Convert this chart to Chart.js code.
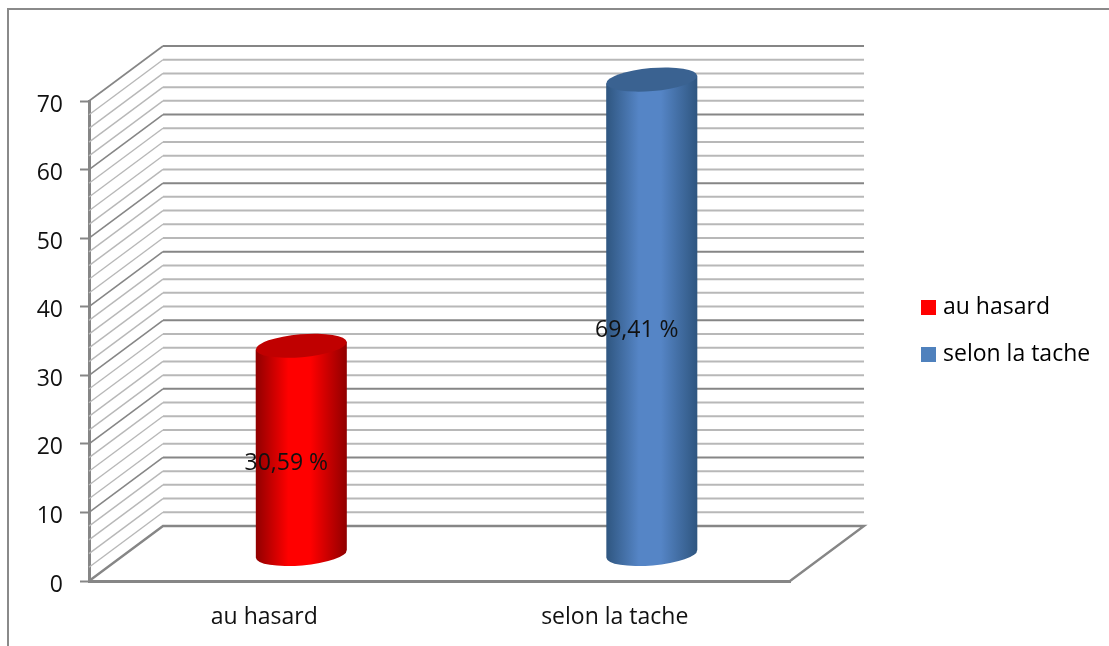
<!DOCTYPE html>
<html>
<head>
<meta charset="utf-8">
<style>html,body{margin:0;padding:0;background:#fff;overflow:hidden}canvas{display:block}</style>
<script src="https://cdn.jsdelivr.net/npm/chart.js@4"></script>
</head>
<body>
<canvas id="c" width="1109" height="646"></canvas>
<script>
const categories = ['au hasard', 'selon la tache'];
const hasardValues = [30.59, null];
const tacheValues = [null, 69.41];
const seriesNames = ['au hasard', 'selon la tache'];
const seriesColors = ['#ff0000', '#4f81bd'];
const yMax = 70, yStep = 2, yLabelStep = 10;

const FONT = '"Open Sans"', TEXT = '#111111';
const DX = 74, DY = -55;              // depth of the 3D box
const MAJOR = '#868686', MINOR = '#b8b8b8';
const looks = [
  {edge:'#900000', mid:'#ff0000', top:'#c00000'},
  {edge:'#2f5680', mid:'#5585c6', top:'#3a6291'}
];

function swatch(color){
  const s = document.createElement('canvas');
  s.width = 15; s.height = 15;
  const g = s.getContext('2d');
  g.fillStyle = color; g.fillRect(0,0,15,15);
  return s;
}
const swatches = seriesColors.map(swatch);

const box3d = {
  id:'box3d',
  afterLayout(chart){
    const l = chart.legend;
    l.left = 901.5; l.right = 1105; l.top = 272; l.bottom = 640;
  },
  beforeDraw(chart){
    const c = chart.ctx;
    c.save();
    c.fillStyle = '#fff'; c.fillRect(0,0,chart.width,chart.height);
    c.strokeStyle = '#8a8a8a'; c.lineWidth = 2;
    c.beginPath(); c.moveTo(8,chart.height); c.lineTo(8,9); c.lineTo(chart.width,9); c.stroke();
    c.restore();
    // nudge the tick labels to sit as in the picture (the layout caches these items)
    if (!chart.$nudged) {
      chart.scales.y.getLabelItems().forEach(it => { it.options.translation[1] += 4; });
      chart.$nudged = true;
    }
  },
  beforeDatasetsDraw(chart){
    const c = chart.ctx, a = chart.chartArea, y = chart.scales.y;
    c.save();
    // walls: one line per y tick, light first so the dark ones stay on top
    const values = y.ticks.map(t => t.value).filter(v => v > 0);
    const line = (v, dark) => {
      const p = y.getPixelForValue(v);
      c.strokeStyle = dark ? MAJOR : MINOR;
      c.lineWidth = dark ? 1.6 : 1.4;
      c.beginPath(); c.moveTo(a.left, p); c.lineTo(a.left+DX, p+DY); c.stroke();
      c.lineWidth = 2;
      c.beginPath(); c.moveTo(a.left+DX, p+DY); c.lineTo(a.right+DX, p+DY); c.stroke();
    };
    values.filter(v => v % yLabelStep).forEach(v => line(v,false));
    values.filter(v => !(v % yLabelStep)).forEach(v => line(v,true));
    // floor
    const b = y.getPixelForValue(0);
    c.strokeStyle = MAJOR; c.lineWidth = 2.4;
    c.beginPath();
    c.moveTo(a.left, b); c.lineTo(a.left+DX, b+DY); c.lineTo(a.right+DX, b+DY); c.lineTo(a.right, b);
    c.stroke();
    // cylinders, placed from the bar elements
    chart.data.datasets.forEach((ds, i) => {
      chart.getDatasetMeta(i).data.forEach((el, j) => {
        const v = ds.data[j];
        if (v === null) return;
        const cx = el.x + DX/2, top = el.y + DY/2 + 2, base = el.base + DY/2 + 1;
        const rx = el.width/2, ry = 11.5, tilt = -0.085;
        const sin = Math.sin(tilt)*rx;
        const g = c.createLinearGradient(cx-rx,0,cx+rx,0);
        g.addColorStop(0, looks[i].edge);
        g.addColorStop(0.36, looks[i].mid);
        g.addColorStop(0.6, looks[i].mid);
        g.addColorStop(1, looks[i].edge);
        c.fillStyle = g;
        c.beginPath();
        c.moveTo(cx-rx, top-sin);
        c.lineTo(cx+rx, top+sin);
        c.lineTo(cx+rx, base+sin);
        c.ellipse(cx, base, rx, ry, tilt, 0, Math.PI);
        c.closePath();
        c.fill();
        c.fillStyle = looks[i].top;
        c.beginPath();
        c.ellipse(cx, top, rx, ry, tilt, 0, Math.PI*2);
        c.fill();
      });
    });
    // value labels
    c.fillStyle = TEXT;
    c.font = '23px ' + FONT;
    c.textAlign = 'center'; c.textBaseline = 'middle';
    chart.data.datasets.forEach((ds, i) => {
      chart.getDatasetMeta(i).data.forEach((el, j) => {
        const v = ds.data[j];
        if (v === null) return;
        c.fillText(v.toFixed(2).replace('.', ',') + ' %', el.x + 22, (el.y + el.base)/2 - 12.5);
      });
    });
    c.restore();
    return false;
  }
};

new Chart(document.getElementById('c'), {
  type:'bar',
  data:{
    labels:categories,
    datasets:[
      {label:seriesNames[0], data:hasardValues, backgroundColor:seriesColors[0]},
      {label:seriesNames[1], data:tacheValues, backgroundColor:seriesColors[1]}
    ]
  },
  options:{
    responsive:false,
    animation:false,
    categoryPercentage:1,
    barPercentage:0.26,
    layout:{autoPadding:false, padding:{left:0, top:101, right:319, bottom:0}},
    scales:{
      x:{
        stacked:true,
        grid:{display:false},
        border:{display:true, color:MAJOR, width:3},
        ticks:{color:TEXT, font:{family:FONT, size:23}, padding:15, maxRotation:0},
        afterFit(s){ s.height = 65; }
      },
      y:{
        stacked:true,
        min:0, max:yMax,
        grid:{drawOnChartArea:false, tickLength:9, tickWidth:2,
              tickColor:ctx => ctx.tick && ctx.tick.value % yLabelStep === 0 ? MAJOR : 'rgba(0,0,0,0)'},
        border:{color:MAJOR, width:3},
        ticks:{stepSize:yStep, autoSkip:false, color:TEXT, font:{family:FONT, size:23}, padding:17,
               callback:v => v % yLabelStep === 0 ? String(v) : ''},
        afterFit(s){ s.width = 89; }
      }
    },
    plugins:{
      tooltip:{enabled:false},
      title:{display:false},
      legend:{
        position:'chartArea',
        align:'start',
        labels:{
          color:TEXT, font:{family:FONT, size:23},
          usePointStyle:true, pointStyleWidth:6, boxHeight:15, padding:24,
          generateLabels:chart => chart.data.datasets.map((d,i) => ({
            text:d.label, fillStyle:seriesColors[i], strokeStyle:seriesColors[i],
            lineWidth:0, pointStyle:swatches[i], datasetIndex:i, hidden:false
          }))
        }
      }
    }
  },
  plugins:[box3d]
});
</script>
</body>
</html>
